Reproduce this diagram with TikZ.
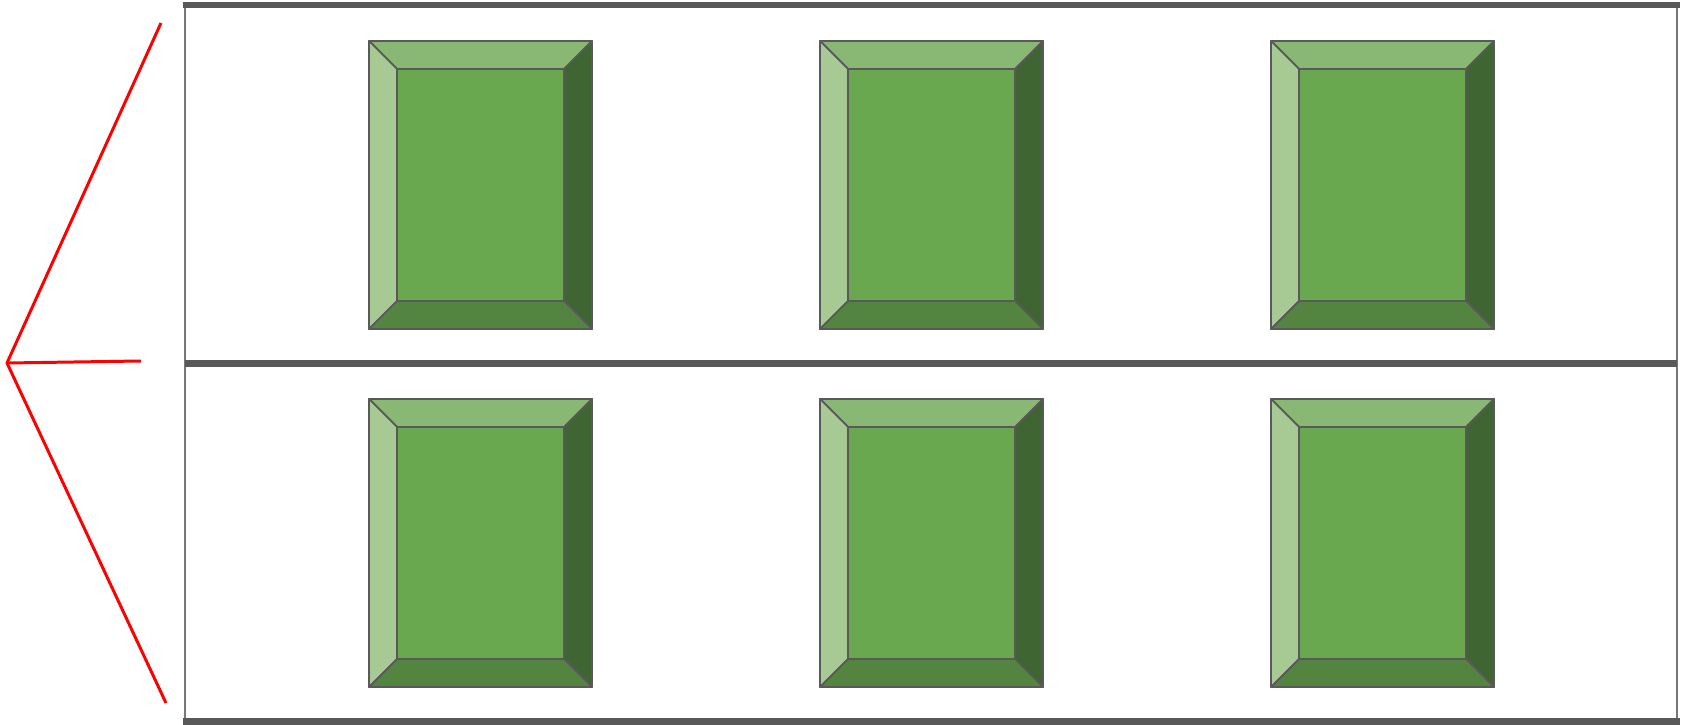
\documentclass[tikz,border=0pt]{standalone}
\definecolor{bvtop}{HTML}{88B873}
\definecolor{bvleft}{HTML}{A7CA95}
\definecolor{bvright}{HTML}{3F6632}
\definecolor{bvbottom}{HTML}{548540}
\definecolor{bvcenter}{HTML}{6AA84F}
\definecolor{edge}{HTML}{595959}
\definecolor{post}{HTML}{777777}
\tikzset{
  bvline/.style={draw=edge, line width=0.5pt, line join=round},
  bar/.style={fill=edge},
  postline/.style={draw=post, line width=0.6pt},
  redline/.style={draw=red, line width=0.85pt},
  bevelbox/.pic={
    \path[bvline, fill=bvtop] (0,0) -- (223,0) -- (195,28) -- (28,28) -- cycle;
    \path[bvline, fill=bvleft] (0,0) -- (28,28) -- (28,260) -- (0,288) -- cycle;
    \path[bvline, fill=bvright] (223,0) -- (223,288) -- (195,260) -- (195,28) -- cycle;
    \path[bvline, fill=bvbottom] (0,288) -- (223,288) -- (195,260) -- (28,260) -- cycle;
    \path[bvline, fill=bvcenter] (28,28) rectangle (195,260);
  }
}
\begin{document}
\begin{tikzpicture}[x=0.01cm, y=-0.01cm]
\useasboundingbox (0,0) rectangle (1686,725);
% posts
\draw[postline] (185,5) -- (185,721);
\draw[postline] (1677,5) -- (1677,721);
% shelves
\fill[bar] (183,2) rectangle (1680,8.5);
\fill[bar] (185,360) rectangle (1677,367);
\fill[bar] (183,718) rectangle (1680,725);
% boxes
\foreach \bx in {369,820,1271} {
  \pic at (\bx,41) {bevelbox};
  \pic at (\bx,399) {bevelbox};
}
% red lines
\coordinate (apex) at (7,363);
\coordinate (rtop) at (161,23);
\coordinate (rmid) at (141,361);
\coordinate (rbot) at (166,703);
\draw[redline, line join=round] (rtop) -- (apex) -- (rbot);
\draw[redline] (apex) -- (rmid);
\end{tikzpicture}
\end{document}
